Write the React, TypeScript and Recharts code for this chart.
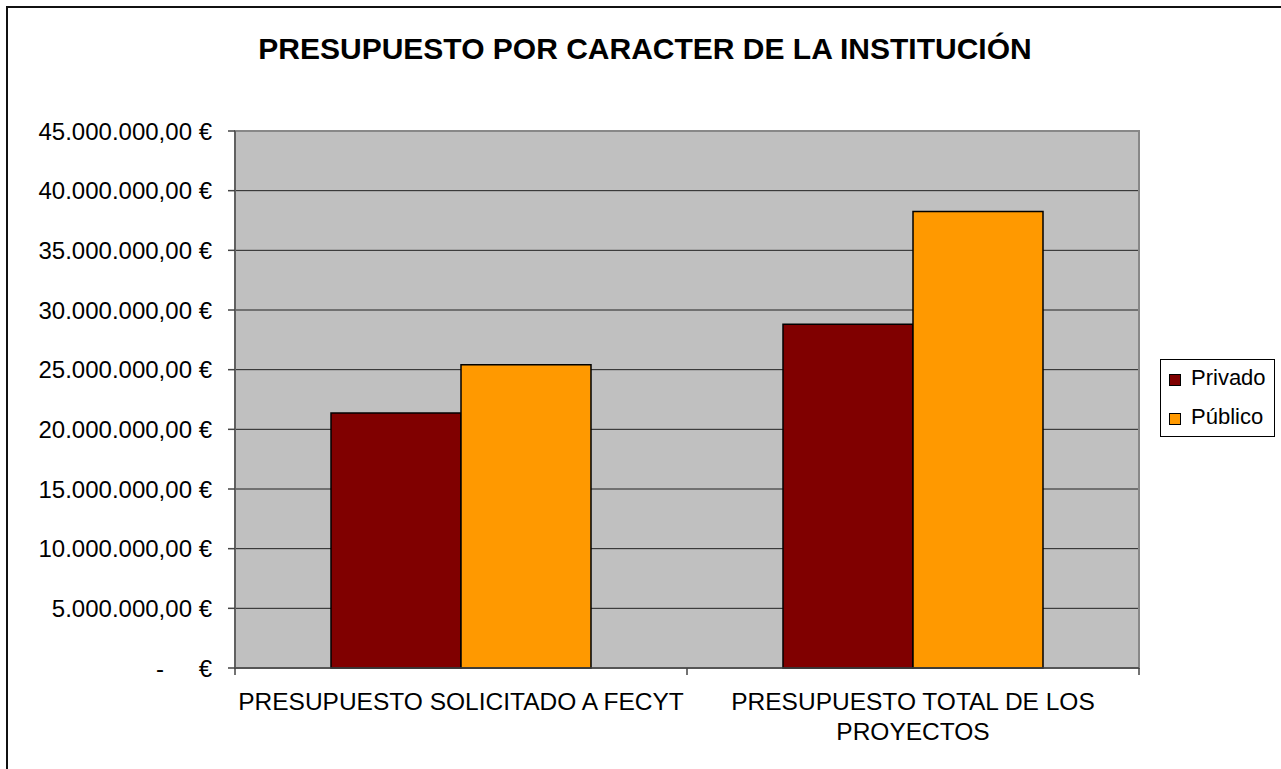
import { BarChart, Bar, XAxis, YAxis, CartesianGrid, ReferenceArea } from 'recharts'

const CATEGORY_LINES = [
  ['PRESUPUESTO SOLICITADO A FECYT'],
  ['PRESUPUESTO TOTAL DE LOS', 'PROYECTOS'],
]
const CATEGORIES = CATEGORY_LINES.map((lines) => lines.join(' '))
const PRIVADO = [21370000, 28800000]
const PUBLICO = [25420000, 38260000]
const Y_TICKS = [0, 5000000, 10000000, 15000000, 20000000, 25000000, 30000000, 35000000, 40000000, 45000000]

const SERIES = [
  { key: 'privado', name: 'Privado', color: '#800000' },
  { key: 'publico', name: 'Público', color: '#FF9900' },
]

const FONT = '"Liberation Sans", Arial, sans-serif'

const chartData = CATEGORIES.map((name, i) => ({
  name,
  privado: PRIVADO[i],
  publico: PUBLICO[i],
}))

function formatEuro(value: number) {
  const int = Math.round(value).toString().replace(/\B(?=(\d{3})+(?!\d))/g, '.')
  return `${int},00 €`
}

function YTick({ x, y, payload }: any) {
  if (payload.value === 0) {
    return (
      <g fontFamily={FONT} fontSize={24} fill="#000">
        <text x={160} y={y} dy="0.355em" textAnchor="middle">-</text>
        <text x={x} y={y} dy="0.355em" textAnchor="end">€</text>
      </g>
    )
  }
  return (
    <text x={x} y={y} dy="0.355em" textAnchor="end" fontFamily={FONT} fontSize={24} fill="#000">
      {formatEuro(payload.value)}
    </text>
  )
}

// category label + tick marks at the band edges (Excel style)
function XTick({ x, y, payload, index }: any) {
  const half = payload.offset ?? 0
  const lines = CATEGORY_LINES[index] ?? [payload.value]
  return (
    <g>
      {index === 0 && (
        <line x1={x - half} x2={x - half} y1={y} y2={y + 7} stroke="#444" strokeWidth={1.5} />
      )}
      <line x1={x + half} x2={x + half} y1={y} y2={y + 7} stroke="#444" strokeWidth={1.5} />
      <text x={x} y={y + 42} textAnchor="middle" fontFamily={FONT} fontSize={24.5} fill="#000">
        {lines.map((ln: string, i: number) => (
          <tspan key={i} x={x} dy={i === 0 ? 0 : 30}>
            {ln}
          </tspan>
        ))}
      </text>
    </g>
  )
}

export default function App() {
  return (
    <div
      style={{
        position: 'fixed',
        left: 0,
        top: 0,
        width: 1281,
        height: 769,
        overflow: 'hidden',
        background: '#fff',
        fontFamily: FONT,
      }}
    >
      <div
        style={{
          position: 'absolute',
          left: 6,
          top: 6,
          width: 1400,
          height: 900,
          borderLeft: '2px solid #111',
          borderTop: '2px solid #111',
        }}
      />
      <div
        style={{
          position: 'absolute',
          left: 0,
          top: 32,
          width: 1290,
          textAlign: 'center',
          fontSize: 30,
          fontWeight: 'bold',
          color: '#000',
        }}
      >
        PRESUPUESTO POR CARACTER DE LA INSTITUCIÓN
      </div>

      <div style={{ position: 'absolute', left: 0, top: 0 }}>
        <BarChart
          width={1281}
          height={769}
          data={chartData}
          margin={{ top: 131, right: 142, bottom: 41, left: 0 }}
          barSize={130}
          barGap={0}
        >
          <CartesianGrid vertical={false} fill="#C0C0C0" stroke="#222" fillOpacity={1} />
          <ReferenceArea
            y1={0}
            y2={45000000}
            fill="none"
            stroke="#888"
            strokeWidth={2}
            ifOverflow="visible"
          />
          <XAxis
            dataKey="name"
            height={60}
            tickLine={false}
            tickSize={0}
            tickMargin={0}
            axisLine={{ stroke: '#444', strokeWidth: 1.5 }}
            tick={<XTick />}
            interval={0}
          />
          <YAxis
            width={235}
            domain={[0, 45000000]}
            ticks={Y_TICKS}
            interval={0}
            tickSize={7}
            tickMargin={16}
            tickLine={{ stroke: '#444', strokeWidth: 1.5 }}
            axisLine={{ stroke: '#555', strokeWidth: 1.5 }}
            tick={<YTick />}
          />
          {SERIES.map((s) => (
            <Bar
              key={s.key}
              dataKey={s.key}
              name={s.name}
              fill={s.color}
              stroke="#000"
              strokeWidth={1.5}
              isAnimationActive={false}
            />
          ))}
        </BarChart>
      </div>

      <div
        style={{
          position: 'absolute',
          left: 1160,
          top: 359,
          width: 113,
          height: 76,
          border: '1px solid #000',
          background: '#fff',
        }}
      >
        {SERIES.map((s, i) => (
          <div
            key={s.key}
            style={{
              position: 'absolute',
              left: 8,
              top: 5 + i * 39,
              display: 'flex',
              alignItems: 'center',
              fontSize: 22,
              lineHeight: '26px',
              color: '#000',
            }}
          >
            <span
              style={{
                display: 'inline-block',
                width: 10,
                height: 10,
                border: '1px solid #000',
                background: s.color,
                marginRight: 10,
                marginTop: 4,
              }}
            />
            {s.name}
          </div>
        ))}
      </div>
    </div>
  )
}
